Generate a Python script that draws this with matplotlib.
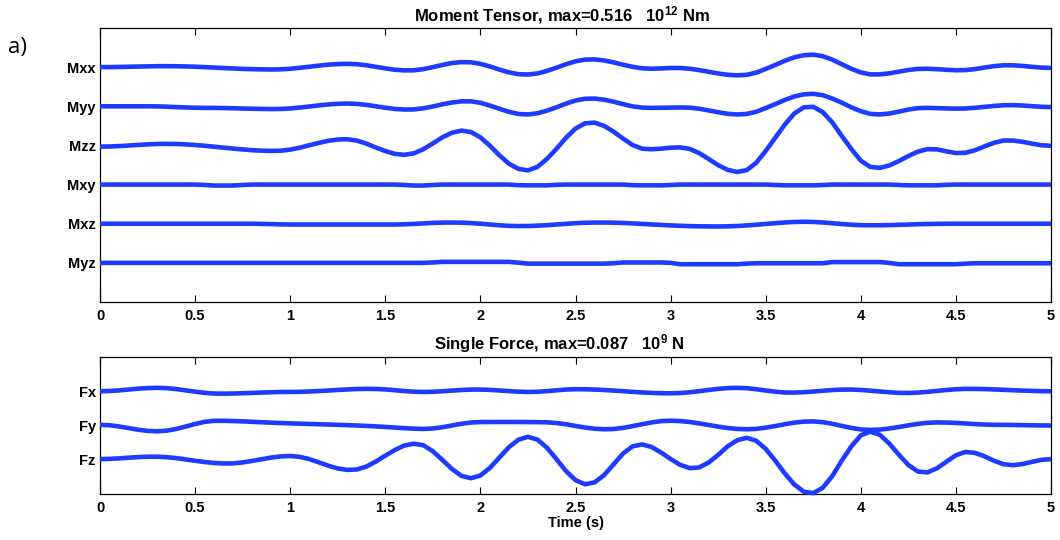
import numpy as np
import matplotlib
matplotlib.use("Agg")
import matplotlib.pyplot as plt

plt.rcParams['font.family'] = ['Liberation Sans', 'DejaVu Sans']
plt.rcParams['mathtext.default'] = 'regular'

time = np.linspace(0.0, 5.0, 101)

mt_labels = ["Mxx", "Myy", "Mzz", "Mxy", "Mxz", "Myz"]
sf_labels = ["Fx", "Fy", "Fz"]
x_ticks = [0, 0.5, 1, 1.5, 2, 2.5, 3, 3.5, 4, 4.5, 5]
x_tick_labels = ["0", "0.5", "1", "1.5", "2", "2.5", "3", "3.5", "4", "4.5", "5"]

mxx = [0.000, 0.001, 0.005, 0.010, 0.015, 0.020, 0.024, 0.025,
       0.023, 0.018, 0.011, 0.000, -0.010, -0.023, -0.034, -0.044, -0.052, -0.057, -0.060,
       -0.056, -0.042, -0.017, 0.010, 0.039, 0.063, 0.079, 0.085,
       0.075, 0.048, 0.009, -0.032, -0.066, -0.083,
       -0.080, -0.051, 0.001, 0.056, 0.104, 0.128,
       0.124, 0.083, 0.018, -0.062, -0.132, -0.180,
       -0.189, -0.161, -0.096, -0.014, 0.075, 0.149, 0.192,
       0.198, 0.171, 0.121, 0.063, 0.008, -0.030,
       -0.040, -0.033, -0.022,
       -0.022, -0.040, -0.075, -0.119, -0.162, -0.195, -0.210,
       -0.196, -0.141, -0.046, 0.055, 0.161, 0.251, 0.304,
       0.319, 0.279, 0.192, 0.075, -0.042, -0.134, -0.185,
       -0.185, -0.158, -0.115, -0.073, -0.045,
       -0.041, -0.052, -0.068, -0.079,
       -0.075, -0.050, -0.011, 0.025, 0.048,
       0.047, 0.031, 0.008, -0.012, -0.020]

myy = [0.000, 0.000, 0.000, 0.000, 0.000, 0.000,
       -0.003, -0.010, -0.020, -0.030, -0.037, -0.040,
       -0.041, -0.045, -0.051, -0.057, -0.063, -0.067, -0.070,
       -0.068, -0.055, -0.032, -0.006, 0.022, 0.047, 0.064, 0.070,
       0.061, 0.036, 0.000, -0.037, -0.068, -0.083,
       -0.080, -0.052, -0.005, 0.050, 0.096, 0.125,
       0.127, 0.089, 0.018, -0.064, -0.142, -0.196,
       -0.209, -0.179, -0.112, -0.026, 0.069, 0.147, 0.192,
       0.197, 0.169, 0.117, 0.056, -0.002, -0.034,
       -0.040, -0.038, -0.034, -0.031,
       -0.035, -0.062, -0.106, -0.152, -0.192, -0.209,
       -0.196, -0.141, -0.046, 0.055, 0.161, 0.251, 0.304,
       0.319, 0.283, 0.198, 0.092, -0.027, -0.125, -0.194,
       -0.209, -0.185, -0.137, -0.083, -0.047,
       -0.041, -0.047, -0.054, -0.060,
       -0.056, -0.039, -0.015, 0.009, 0.026,
       0.030, 0.020, 0.003, -0.013, -0.020]

mzz = [-0.030, -0.027, -0.017, -0.003, 0.013, 0.027, 0.037, 0.040,
       0.037, 0.027, 0.011, -0.009, -0.032, -0.057, -0.081, -0.102, -0.122, -0.133, -0.140,
       -0.135, -0.107, -0.059, 0.004, 0.064, 0.118, 0.151,
       0.159, 0.124, 0.048, -0.052, -0.144, -0.216, -0.240,
       -0.203, -0.097, 0.051, 0.206, 0.324, 0.378,
       0.343, 0.207, -0.008, -0.252, -0.467, -0.599,
       -0.638, -0.548, -0.345, -0.087, 0.196, 0.430, 0.565,
       0.582, 0.500, 0.352, 0.176, 0.010, -0.083,
       -0.098, -0.083, -0.058,
       -0.050, -0.088, -0.195, -0.346, -0.504, -0.623, -0.678,
       -0.631, -0.445, -0.142, 0.194, 0.530, 0.815, 0.973,
       0.987, 0.850, 0.589, 0.242, -0.090, -0.390, -0.548,
       -0.574, -0.511, -0.399, -0.271, -0.159,
       -0.095, -0.100, -0.151, -0.195,
       -0.188, -0.124, -0.025, 0.067, 0.125,
       0.124, 0.092, 0.046, 0.005, -0.010]

mxy = [0.000, 0.000, 0.000, 0.000, 0.000, 0.000, 0.000, 0.000, 0.000, 0.000, 0.000,
       -0.010, -0.025, -0.025, -0.025, -0.010,
       0.000, 0.000, 0.000, 0.000, 0.000, 0.000, 0.000, 0.000,
       0.000, 0.000, 0.000, 0.000, 0.000, 0.000, 0.000, 0.000,
       -0.010, -0.025, -0.025, -0.010,
       0.000, 0.000, 0.000, 0.000, 0.000, 0.000, 0.000, 0.000,
       -0.015, -0.020, -0.020, -0.020, -0.005,
       0.000, 0.000, 0.000, 0.000, 0.000, 0.000, 0.000,
       -0.015, -0.020, -0.020, -0.020, -0.010,
       0.000, 0.000, 0.000, 0.000, 0.000, 0.000, 0.000, 0.000, 0.000, 0.000,
       -0.010, -0.020, -0.020, -0.020, -0.020, -0.010,
       0.000, 0.000, 0.000, 0.000, 0.000, 0.000, 0.000,
       -0.010, -0.020, -0.020, -0.020, -0.020, -0.005,
       0.000, 0.000, 0.000, 0.000, 0.000, 0.000, 0.000, 0.000, 0.000, 0.000, 0.000]

mxz = [0.000, 0.000, 0.000, 0.000, 0.000, 0.000, 0.000, 0.000, 0.000,
       0.000, 0.000, 0.000, 0.000, 0.000, 0.000, 0.000, 0.000,
       -0.005, -0.010, -0.017,
       -0.020, -0.020, -0.020, -0.020, -0.020, -0.020,
       -0.020, -0.020, -0.020, -0.020, -0.020, -0.020,
       -0.015, -0.005, 0.008, 0.020, 0.028, 0.030, 0.027, 0.016,
       0.000, -0.020, -0.040, -0.055, -0.060, -0.058, -0.050, -0.037, -0.020, -0.003,
       0.013, 0.024, 0.030, 0.030, 0.027, 0.019, 0.008, -0.005, -0.018, -0.031,
       -0.043, -0.053, -0.061, -0.066, -0.069, -0.070, -0.067, -0.058, -0.044, -0.026,
       -0.006, 0.014, 0.032, 0.045, 0.050, 0.045, 0.032, 0.013, -0.008, -0.026,
       -0.037, -0.040, -0.039, -0.035, -0.028, -0.021, -0.013, -0.007, -0.003, -0.001,
       0.000, 0.000, 0.000, 0.000, 0.000, 0.000, 0.000, 0.000, 0.000, 0.000, 0.000]

myz = [0.000, 0.000, 0.000, 0.000, 0.000, 0.000, 0.000, 0.000, 0.000, 0.000,
       0.000, 0.000, 0.000, 0.000, 0.000, 0.000, 0.000, 0.000, 0.000, 0.000,
       0.000, 0.000, 0.000, 0.000, 0.000, 0.000, 0.000, 0.000, 0.000, 0.000,
       0.000, 0.000, 0.000, 0.000, 0.000,
       0.010,
       0.025, 0.025, 0.025, 0.025, 0.025, 0.025, 0.025, 0.025,
       0.005,
       -0.020, -0.020, -0.020, -0.020, -0.020, -0.020, -0.020, -0.020, -0.020,
       -0.010,
       0.010, 0.010, 0.010, 0.010, 0.010,
       0.000,
       -0.035, -0.035, -0.035, -0.035, -0.035, -0.035, -0.035,
       -0.020,
       -0.010, -0.010, -0.010, -0.010, -0.010, -0.010, -0.010, -0.010,
       0.020, 0.020, 0.020, 0.020, 0.020, 0.020,
       0.000,
       -0.035, -0.035, -0.035, -0.035, -0.035, -0.035, -0.035,
       -0.020,
       -0.010, -0.010, -0.010, -0.010, -0.010, -0.010, -0.010, -0.010, -0.010]

fx = [0.000, 0.007, 0.025, 0.050, 0.075, 0.093, 0.100,
      0.091, 0.064, 0.027, -0.012, -0.046, -0.067,
      -0.070, -0.066, -0.058, -0.048, -0.038, -0.029, -0.022, -0.020,
      -0.017, -0.008, 0.006, 0.021, 0.038, 0.053, 0.064, 0.070,
      0.067, 0.053, 0.030, 0.005, -0.013, -0.020,
      -0.015, 0.000, 0.019, 0.037, 0.048,
      0.049, 0.040, 0.023, 0.004, -0.012, -0.020,
      -0.015, 0.003, 0.027, 0.050, 0.060,
      0.058, 0.050, 0.037, 0.020, 0.002, -0.017, -0.035, -0.048, -0.057, -0.060,
      -0.052, -0.030, 0.002, 0.038, 0.070, 0.092, 0.100,
      0.089, 0.059, 0.022, -0.013, -0.036,
      -0.039, -0.028, -0.009, 0.014, 0.036, 0.048,
      0.049, 0.038, 0.017, -0.007, -0.030, -0.046,
      -0.050, -0.040, -0.018, 0.010, 0.036, 0.059, 0.070,
      0.069, 0.063, 0.053, 0.042, 0.030, 0.019, 0.010, 0.002, 0.000]

fy = [0.020, 0.007, -0.028, -0.075, -0.123, -0.157, -0.170,
      -0.151, -0.102, -0.030, 0.044, 0.106, 0.137,
      0.138, 0.130, 0.120, 0.108, 0.095, 0.083, 0.072, 0.062,
      0.053, 0.045, 0.037, 0.029, 0.020, 0.010, 0.000,
      -0.012, -0.026, -0.042, -0.060, -0.078, -0.093, -0.100,
      -0.087, -0.050, 0.000, 0.050, 0.087, 0.100,
      0.102, 0.103, 0.103, 0.102, 0.100, 0.097,
      0.093, 0.073, 0.036, -0.012, -0.059, -0.094, -0.110,
      -0.102, -0.070, -0.018, 0.037, 0.090, 0.127, 0.140,
      0.130, 0.103, 0.062, 0.015, -0.033, -0.074, -0.100, -0.110,
      -0.098, -0.064, -0.016, 0.037, 0.083, 0.113,
      0.119, 0.098, 0.050, -0.012, -0.070, -0.115, -0.130,
      -0.119, -0.088, -0.044, 0.004, 0.048, 0.079, 0.090,
      0.086, 0.075, 0.059, 0.042, 0.028, 0.021, 0.019, 0.016, 0.011, 0.006, 0.002, 0.000]

fz = [0.020, 0.025, 0.040, 0.059, 0.077, 0.088,
      0.089, 0.075, 0.048, 0.010, -0.030, -0.066, -0.094, -0.109,
      -0.106, -0.079, -0.035, 0.015, 0.064, 0.098, 0.110,
      0.085, 0.020, -0.075, -0.173, -0.255, -0.296,
      -0.285, -0.200, -0.054, 0.120, 0.285, 0.416, 0.469,
      0.424, 0.248, -0.005, -0.267, -0.469, -0.540,
      -0.460, -0.238, 0.065, 0.368, 0.585, 0.670,
      0.587, 0.350, 0.017, -0.331, -0.595, -0.716,
      -0.662, -0.451, -0.135, 0.181, 0.392,
      0.448, 0.373, 0.212, 0.023, -0.148, -0.243,
      -0.225, -0.081, 0.142, 0.391, 0.569, 0.640,
      0.556, 0.316, -0.024, -0.397, -0.721, -0.931,
      -0.975, -0.818, -0.476, -0.026, 0.388, 0.712, 0.820,
      0.728, 0.472, 0.148, -0.152, -0.344,
      -0.369, -0.252, -0.057, 0.132, 0.227,
      0.202, 0.101, -0.029, -0.129,
      -0.159, -0.126, -0.063, -0.003, 0.020]

mt_traces = [mxx, myy, mzz, mxy, mxz, myz]
sf_traces = [fx, fy, fz]
for tr in mt_traces + sf_traces:
    assert len(tr) == len(time)

# ---------------- drawing ----------------
BLUE = "#1e3cff"
W, H = 1060, 540
fig = plt.figure(figsize=(W / 100, H / 100), dpi=100)
ax1 = fig.add_axes([100 / W, 1 - 302 / H, 951 / W, 274 / H])
ax2 = fig.add_axes([100 / W, 1 - 494 / H, 951 / W, 137 / H])


def style(ax, labels):
    n = len(labels)
    ax.set_xlim(0, 5)
    ax.set_ylim(-(n + 1), 0)
    ax.set_xticks(x_ticks)
    ax.set_xticklabels(x_tick_labels, fontweight='bold', fontsize=10.5)
    ax.set_yticks([-(i + 1) for i in range(n)])
    ax.set_yticklabels(labels, fontweight='bold', fontsize=10.5)
    ax.tick_params(axis='x', direction='in', top=True, bottom=True, length=5,
                   width=0.8, pad=5)
    ax.tick_params(axis='y', direction='in', left=True, right=True, length=5,
                   width=0.8, pad=3)
    for s in ax.spines.values():
        s.set_linewidth(0.9)


for i, tr in enumerate(mt_traces):
    ax1.plot(time, np.asarray(tr) - (i + 1), color=BLUE, lw=3.3,
             solid_capstyle='butt', solid_joinstyle='round', clip_on=False, zorder=3)
for i, tr in enumerate(sf_traces):
    ax2.plot(time, np.asarray(tr) - (i + 1), color=BLUE, lw=3.3,
             solid_capstyle='butt', solid_joinstyle='round', clip_on=False, zorder=3)

style(ax1, mt_labels)
style(ax2, sf_labels)

ax1.text(0.486, 1.006, r"Moment Tensor, max=0.516   10$^{12}$ Nm",
         transform=ax1.transAxes, ha='center', va='bottom', fontsize=12,
         fontweight='bold')
ax2.text(0.483, 1.012, r"Single Force, max=0.087   10$^{9}$ N",
         transform=ax2.transAxes, ha='center', va='bottom', fontsize=12,
         fontweight='bold')
ax2.set_xlabel("Time (s)", fontweight='bold', fontsize=10.5, labelpad=1)

fig.text(8 / W, 1 - 47 / H, "a)", fontsize=16, family=['Open Sans', 'DejaVu Sans'],
         ha='left', va='center')

fig.savefig("out.png", dpi=100)
